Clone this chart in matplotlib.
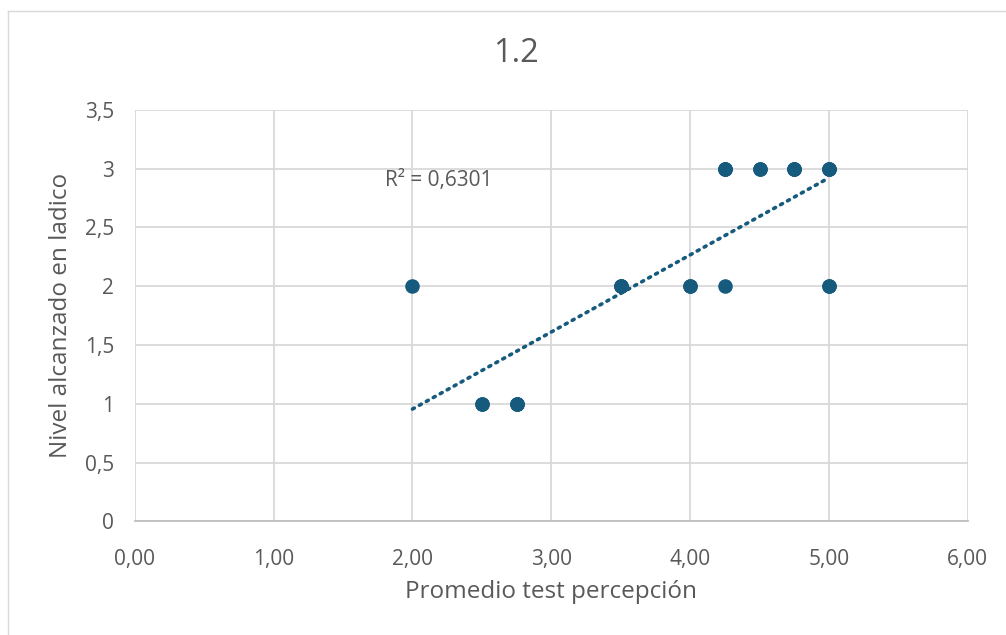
import numpy as np
import matplotlib
matplotlib.use('Agg')
import matplotlib.pyplot as plt
from matplotlib.lines import Line2D

# promedio test percepción vs nivel alcanzado (puntos repetidos se solapan)
promedio = [2.00,
            2.50, 2.50,
            2.75, 2.75, 2.75,
            3.50, 3.50, 3.50,
            4.00, 4.00,
            4.25,
            4.25, 4.25, 4.25,
            4.50, 4.50,
            4.75, 4.75, 4.75,
            5.00, 5.00, 5.00,
            5.00, 5.00]
nivel = [2,
         1, 1,
         1, 1, 1,
         2, 2, 2,
         2, 2,
         2,
         3, 3, 3,
         3, 3,
         3, 3, 3,
         3, 3, 3,
         2, 2]

x_ticks = [0, 1, 2, 3, 4, 5, 6]
y_ticks = [0, 0.5, 1, 1.5, 2, 2.5, 3, 3.5]

plt.rcParams['font.family'] = ['Open Sans', 'DejaVu Sans']
color = '#165a7d'
gray_text = '#595959'

W, H = 1006, 635
fig = plt.figure(figsize=(W / 100, H / 100), dpi=100)
ax = fig.add_axes([0.134, 0.179, 0.828, 0.648])

# linea de tendencia (ajuste lineal)
xa = np.array(promedio)
ya = np.array(nivel)
b, a = np.polyfit(xa, ya, 1)
r2 = np.corrcoef(xa, ya)[0, 1] ** 2
xl = np.array([xa.min(), xa.max()])
ax.plot(xl, a + b * xl, linestyle=(0, (0.6, 1.6)), dash_capstyle='round',
        color=color, lw=2.6, zorder=3)

ax.scatter(xa, ya, s=110, color=color, zorder=4, linewidths=0)

ax.text(1.80, 2.90, 'R² = ' + f'{r2:.4f}'.replace('.', ','), fontsize=15,
        color=gray_text, va='center', ha='left')

ax.set_xlim(0, 6)
ax.set_ylim(0, 3.5)
ax.set_xticks(x_ticks)
ax.set_xticklabels([f'{v:.2f}'.replace('.', ',') for v in x_ticks])
ax.set_yticks(y_ticks)
ax.set_yticklabels([f'{v:g}'.replace('.', ',') for v in y_ticks])
ax.grid(True, color='#d9d9d9', lw=1.3)
ax.set_axisbelow(True)
for s in ['top', 'right', 'left']:
    ax.spines[s].set_visible(False)
ax.spines['bottom'].set_color('#bfbfbf')
ax.spines['bottom'].set_linewidth(1.3)
ax.tick_params(length=0, labelsize=15, labelcolor=gray_text)
ax.tick_params(axis='x', pad=20)
ax.tick_params(axis='y', pad=15)

ax.set_xlabel('Promedio test percepción', fontsize=17.5, color=gray_text, labelpad=7)
ax.set_ylabel('Nivel alcanzado en ladico', fontsize=17.5, color=gray_text, labelpad=8)
fig.text(516 / W, 1 - 54 / H, '1.2', fontsize=23.5, color=gray_text,
         ha='center', va='center')

# borde del area del grafico
fig.add_artist(Line2D([8 / W, 1], [1 - 10.5 / H, 1 - 10.5 / H], color='#d9d9d9', lw=1))
fig.add_artist(Line2D([8 / W, 8 / W], [0, 1 - 10.5 / H], color='#d9d9d9', lw=1))

fig.savefig('out.png', dpi=100)
